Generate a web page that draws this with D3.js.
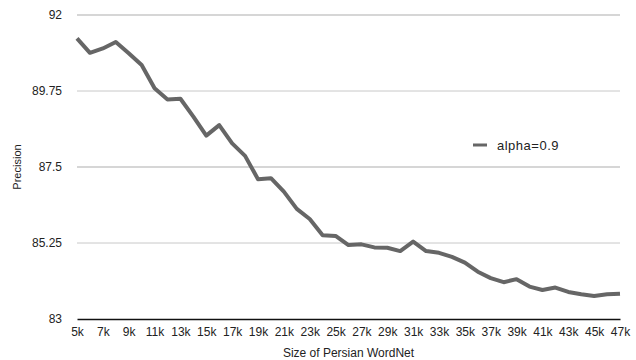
<!DOCTYPE html>
<html><head><meta charset="utf-8">
<script src="https://cdn.jsdelivr.net/npm/d3@7"></script>
<style>body{margin:0;background:#fff}svg{display:block}text{font-family:"Liberation Sans",Arial,sans-serif;fill:#222}</style>
</head><body>
<script>
const sizes = [5,6,7,8,9,10,11,12,13,14,15,16,17,18,19,20,21,22,23,24,25,26,27,28,29,30,31,32,33,34,35,36,37,38,39,40,41,42,43,44,45,46,47];
const precision = [91.31,90.88,91.01,91.20,90.87,90.52,89.83,89.50,89.52,88.99,88.43,88.74,88.20,87.83,87.14,87.17,86.77,86.26,85.96,85.48,85.46,85.19,85.21,85.12,85.11,85.01,85.29,85.01,84.96,84.84,84.67,84.40,84.21,84.09,84.18,83.96,83.86,83.93,83.80,83.73,83.68,83.73,83.75];
const yTicks = [83,85.25,87.5,89.75,92];
const xTicks = [5,7,9,11,13,15,17,19,21,23,25,27,29,31,33,35,37,39,41,43,45,47];
const seriesName = "alpha=0.9";

const W=636,H=360, L=77, R=620, T=15, B=319;
const svg=d3.select("body").append("svg").attr("width",W).attr("height",H);
const x=d3.scaleLinear().domain([5,47]).range([L,R]);
const y=d3.scaleLinear().domain([83,92]).range([B,T]);

// grid
svg.append("g").selectAll("line").data(yTicks.filter(d=>d!==83)).join("line")
  .attr("x1",L).attr("x2",R).attr("y1",d=>y(d)).attr("y2",d=>y(d))
  .attr("stroke","#c8c8c8").attr("stroke-width",d=>d===92||d===87.5?1.6:1);

// y axis labels
const ya=svg.append("g").attr("transform",`translate(${L},0)`)
  .call(d3.axisLeft(y).tickValues(yTicks).tickSize(0).tickPadding(15).tickFormat(d=>String(d)));
ya.select(".domain").remove();
ya.selectAll("text").style("font-size","12px").attr("fill","#222");

// x axis
const xa=svg.append("g").attr("transform",`translate(0,${B})`)
  .call(d3.axisBottom(x).tickValues(xTicks).tickSize(0).tickPadding(8).tickFormat(d=>d+"k"));
xa.select(".domain").attr("stroke","#111").attr("stroke-width",1.6);
xa.selectAll("text").style("font-size","12px").attr("fill","#222");

// line
svg.append("path").datum(sizes.map((s,i)=>[s,precision[i]]))
  .attr("fill","none").attr("stroke","#666").attr("stroke-width",4)
  .attr("stroke-linejoin","round")
  .attr("d",d3.line().x(d=>x(d[0])).y(d=>y(d[1])));

// titles
svg.append("text").attr("x",(L+R)/2).attr("y",357).attr("text-anchor","middle")
  .style("font-size","12px").text("Size of Persian WordNet");
svg.append("text").attr("transform",`translate(21,${(T+B)/2}) rotate(-90)`)
  .attr("text-anchor","middle").style("font-size","11px").text("Precision");

// legend
svg.append("line").attr("x1",473).attr("x2",487).attr("y1",145).attr("y2",145)
  .attr("stroke","#666").attr("stroke-width",3);
svg.append("text").attr("x",497).attr("y",149.5).style("font-size","13px")
  .style("letter-spacing","0.5px").text(seriesName);
</script>
</body></html>
